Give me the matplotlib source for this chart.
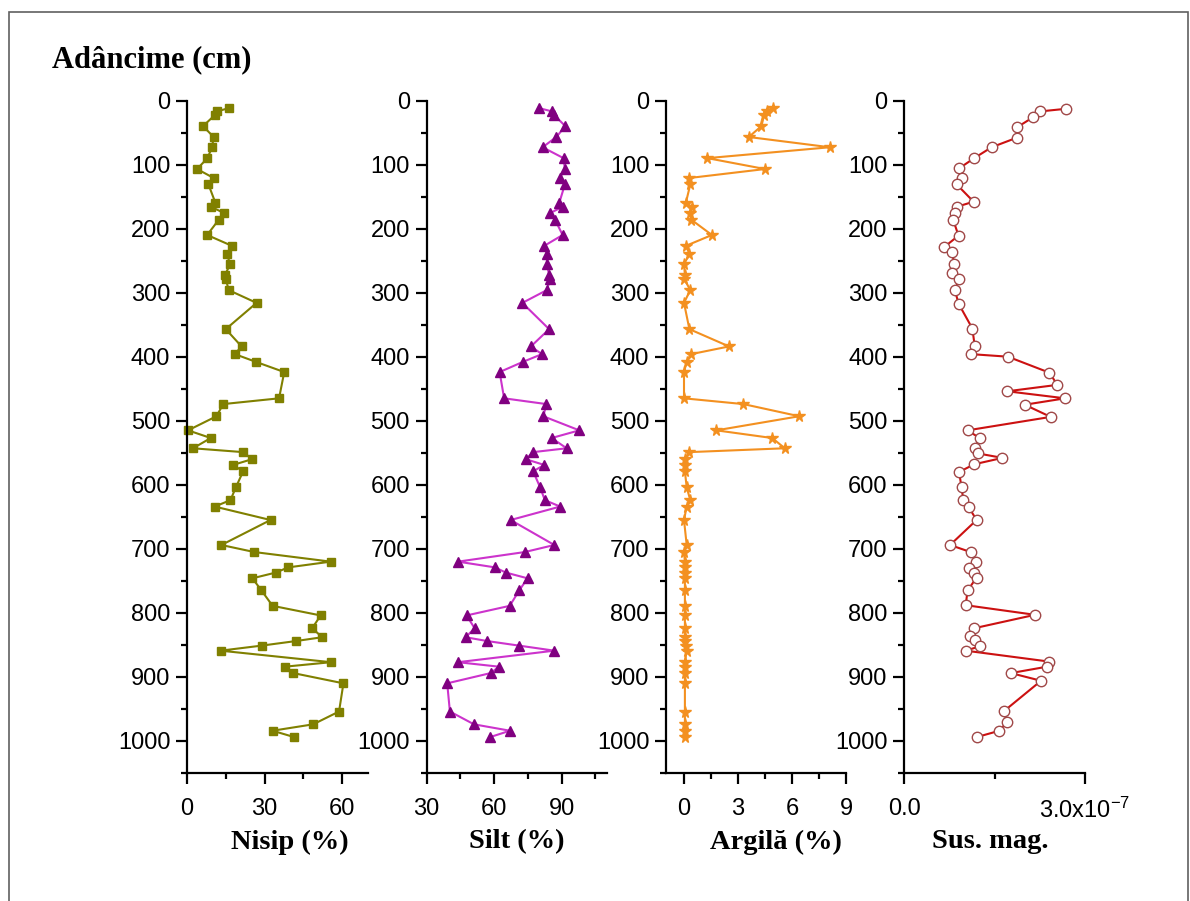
import matplotlib
matplotlib.use("Agg")
import matplotlib.pyplot as plt
from matplotlib.patches import Rectangle
from matplotlib.ticker import MultipleLocator, FixedLocator

# ---------------- data ----------------
depth_gran = [12, 17, 23, 40, 57, 73, 90, 107, 121, 131, 160, 166, 176, 186, 210,
              227, 239, 256, 272, 278, 296, 316, 357, 384, 396, 408, 424, 465, 474,
              493, 515, 527, 543, 549, 560, 569, 579, 604, 624, 634, 655, 694, 705,
              720, 729, 737, 746, 765, 789, 804, 824, 838, 844, 851, 859, 877, 884,
              894, 910, 954, 974, 984, 994]

nisip = [16.1, 11.6, 10.7, 6.2, 10.3, 9.7, 7.9, 3.9, 10.3, 8.3,
         11.0, 9.3, 14.5, 12.3, 7.8, 17.4, 15.4, 16.7, 14.7, 15.0,
         16.1, 26.9, 15.0, 21.1, 18.5, 26.6, 37.6, 35.6, 14.0, 11.4,
         0.4, 9.2, 2.3, 21.7, 25.2, 17.8, 21.7, 18.9, 16.8, 10.7,
         32.3, 13.3, 26.0, 55.6, 39.1, 34.4, 25.3, 28.8, 33.1, 51.7,
         48.4, 52.3, 42.1, 29.1, 13.0, 55.7, 37.9, 41.1, 60.5, 58.8,
         48.8, 33.1, 41.5]

silt = [80.1, 85.8, 86.8, 91.7, 87.7, 81.6, 90.9, 91.5, 89.3, 91.5,
        89.0, 90.5, 84.8, 87.1, 90.5, 82.3, 83.5, 83.5, 84.5, 85.0,
        83.5, 72.6, 84.5, 76.4, 81.3, 72.9, 62.5, 64.5, 83.3, 81.9,
        97.9, 85.6, 92.3, 77.4, 74.1, 82.3, 77.4, 80.5, 82.6, 89.4,
        67.4, 86.8, 73.7, 44.0, 60.5, 65.2, 74.9, 71.2, 67.0, 47.8,
        51.4, 47.4, 57.0, 70.9, 86.8, 44.0, 62.2, 58.5, 39.2, 40.4,
        51.1, 67.1, 58.2]

argila = [4.96, 4.6, 4.45, 4.3, 3.6, 8.1, 1.3, 4.5, 0.3, 0.35,
          0.1, 0.45, 0.35, 0.4, 1.55, 0.1, 0.3, 0.0, 0.05, 0.0,
          0.35, 0.0, 0.3, 2.5, 0.4, 0.15, 0.0, 0.0, 3.3, 6.4,
          1.8, 4.9, 5.6, 0.3, 0.05, 0.05, 0.05, 0.15, 0.35, 0.15,
          0.0, 0.15, 0.0, 0.05, 0.05, 0.05, 0.05, 0.05, 0.05, 0.05,
          0.05, 0.05, 0.05, 0.1, 0.15, 0.05, 0.05, 0.05, 0.05, 0.05,
          0.05, 0.05, 0.05]

depth_sus = [13, 17, 26, 42, 58, 73, 90, 106, 121, 131, 158, 166, 175, 186, 211,
             229, 236, 255, 270, 279, 296, 317, 356, 384, 396, 400, 425, 444, 454,
             465, 475, 494, 515, 527, 543, 551, 558, 568, 580, 604, 624, 635, 655,
             694, 705, 720, 730, 737, 745, 765, 788, 803, 824, 836, 842, 852, 859,
             876, 884, 894, 906, 953, 971, 984, 994]

sus_mag_e7 = [2.68, 2.26, 2.14, 1.87, 1.87, 1.45, 1.16, 0.91, 0.95, 0.87,
              1.15, 0.87, 0.84, 0.81, 0.90, 0.66, 0.79, 0.83, 0.80, 0.91,
              0.84, 0.90, 1.13, 1.17, 1.11, 1.72, 2.41, 2.54, 1.71, 2.67,
              2.00, 2.43, 1.05, 1.25, 1.17, 1.22, 1.63, 1.16, 0.91, 0.95,
              0.98, 1.07, 1.20, 0.76, 1.10, 1.19, 1.08, 1.16, 1.20, 1.05,
              1.02, 2.17, 1.16, 1.09, 1.18, 1.26, 1.02, 2.40, 2.37, 1.77,
              2.27, 1.66, 1.70, 1.58, 1.20]
sus_mag = [v * 1e-7 for v in sus_mag_e7]

title = "Adâncime (cm)"
xlabels = ["Nisip (%)", "Silt (%)", "Argilă (%)", "Sus. mag."]

# ---------------- figure ----------------
W, H = 1190, 901
fig = plt.figure(figsize=(W / 100, H / 100), dpi=100)
plt.rcParams['font.family'] = ['Liberation Sans', 'DejaVu Sans']
plt.rcParams['mathtext.fontset'] = 'custom'
plt.rcParams['mathtext.rm'] = 'Liberation Sans'
plt.rcParams['mathtext.it'] = 'Liberation Sans'

def fx(px):
    return px / W

def fy(py):
    return 1 - py / H

bottom_px, top_px = 773, 100.5
panels_px = [(187, 368), (426.5, 606.5), (666, 846), (904.3, 1085)]

axes = []
for (l, r) in panels_px:
    ax = fig.add_axes([fx(l), fy(bottom_px), (r - l) / W, (bottom_px - top_px) / H])
    axes.append(ax)

for ax in axes:
    ax.set_ylim(1050, 0)
    ax.spines['top'].set_visible(False)
    ax.spines['right'].set_visible(False)
    for s in ('left', 'bottom'):
        ax.spines[s].set_linewidth(1.6)
    ax.yaxis.set_major_locator(MultipleLocator(100))
    ax.yaxis.set_minor_locator(MultipleLocator(50))
    ax.tick_params(which='major', direction='out', length=8, width=1.6,
                   labelsize=17)
    ax.tick_params(axis='y', which='major', pad=4)
    ax.tick_params(axis='x', which='major', pad=10)
    ax.tick_params(which='minor', direction='out', length=4.5, width=1.6)
    ax.set_facecolor('none')

# Panel 1 - Nisip
ax = axes[0]
ax.plot(nisip, depth_gran, color='#808000', lw=1.5, marker='s', ms=6,
        mec='#808000', mfc='#808000', clip_on=False)
ax.set_xlim(0, 70)
ax.xaxis.set_major_locator(FixedLocator([0, 30, 60]))
ax.xaxis.set_minor_locator(FixedLocator([15, 45]))

# Panel 2 - Silt
ax = axes[1]
ax.plot(silt, depth_gran, color='#CC33CC', lw=1.5, marker='^', ms=7.5,
        mec='#800080', mfc='#800080', clip_on=False)
ax.set_xlim(30, 110)
ax.xaxis.set_major_locator(FixedLocator([30, 60, 90]))
ax.xaxis.set_minor_locator(FixedLocator([45, 75, 105]))

# Panel 3 - Argila
ax = axes[2]
ax.plot(argila, depth_gran, color='#F39020', lw=1.5, marker='*', ms=8.5,
        mec='#F39020', mfc='#F39020', clip_on=False)
ax.set_xlim(-1, 9)
ax.xaxis.set_major_locator(FixedLocator([0, 3, 6, 9]))
ax.xaxis.set_minor_locator(FixedLocator([1.5, 4.5, 7.5]))

# Panel 4 - Sus. mag.
ax = axes[3]
ax.plot(sus_mag, depth_sus, color='#CC1111', lw=1.5, marker='o', ms=7.5,
        mec='#A04848', mfc='white', mew=1.0, clip_on=False)
ax.set_xlim(0, 3e-7)
ax.xaxis.set_major_locator(FixedLocator([0, 3e-7]))
ax.xaxis.set_minor_locator(FixedLocator([1.5e-7]))
ax.set_xticklabels(['0.0', r'3.0x10$^{-7}$'])

# Title and axis labels
serif = ['Liberation Serif', 'DejaVu Serif']
fig.text(fx(52), fy(60), title, ha='left', va='center', fontsize=22,
         fontweight='bold', family=serif)
label_x = [289.7, 516.7, 775.8, 990]
for lx, lab in zip(label_x, xlabels):
    fig.text(fx(lx), fy(842), lab, ha='center', va='center', fontsize=20.5,
             fontweight='bold', family=serif)

# Frame around figure (continues past the bottom edge)
fig.patches.append(Rectangle((fx(9), fy(910)), fx(1188) - fx(9), fy(12) - fy(910),
                             transform=fig.transFigure, fill=False,
                             edgecolor='#606060', lw=1.2))

fig.savefig('out.png', dpi=100)
